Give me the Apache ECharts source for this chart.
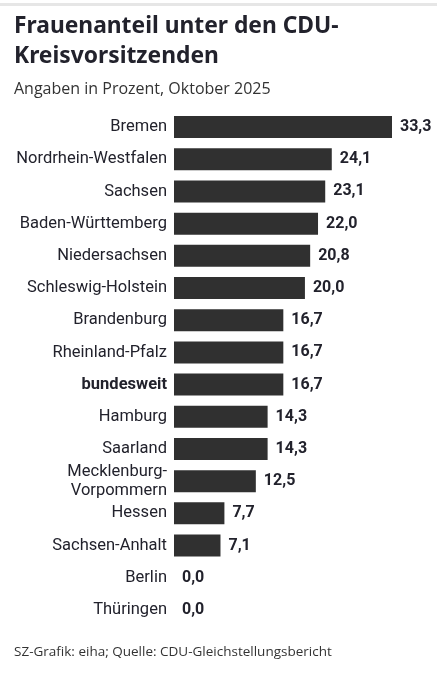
<!DOCTYPE html>
<html lang="de">
<head>
    <meta charset="UTF-8">
    <title>Frauenanteil unter den CDU-Kreisvorsitzenden</title>
    <script src="https://cdn.jsdelivr.net/npm/echarts@6/dist/echarts.min.js"></script>
    <style>
        html, body { margin: 0; padding: 0; background: #fff; }
        #main { width: 437px; height: 680px; }
    </style>
</head>
<body>
<div id="main"></div>
<script>
    // Daten
    const laender = ['Bremen', 'Nordrhein-Westfalen', 'Sachsen', 'Baden-Württemberg', 'Niedersachsen',
        'Schleswig-Holstein', 'Brandenburg', 'Rheinland-Pfalz', 'bundesweit', 'Hamburg', 'Saarland',
        'Mecklenburg-\nVorpommern', 'Hessen', 'Sachsen-Anhalt', 'Berlin', 'Thüringen'];
    const anteil = [33.3, 24.1, 23.1, 22.0, 20.8, 20.0, 16.7, 16.7, 16.7, 14.3, 14.3, 12.5, 7.7, 7.1, 0.0, 0.0];

    const textColor = '#22222c';
    const labelFont = 'Roboto, sans-serif';

    let myChart = echarts.init(document.getElementById('main'));
    let option = {
        backgroundColor: '#fff',
        animation: false,
        title: [
            {
                text: 'Frauenanteil unter den CDU-\nKreisvorsitzenden',
                left: 9, top: 7,
                textStyle: { fontFamily: '"Noto Sans"', fontWeight: 'bold', fontSize: 22.8, lineHeight: 30, color: textColor }
            },
            {
                text: 'Angaben in Prozent, Oktober 2025',
                left: 9, top: 76,
                textStyle: { fontFamily: '"Open Sans"', fontWeight: 'normal', fontSize: 16, color: '#333' }
            },
            {
                text: 'SZ-Grafik: eiha; Quelle: CDU-Gleichstellungsbericht',
                left: 9, top: 640,
                textStyle: { fontFamily: '"Open Sans"', fontWeight: 'normal', fontSize: 13.5, color: '#333' }
            }
        ],
        graphic: [
            { type: 'rect', shape: { x: 0, y: 3, width: 437, height: 3 }, style: { fill: '#e6e6e6' } }
        ],
        grid: { left: 174, right: 45, top: 111, bottom: 54 },
        xAxis: { type: 'value', min: 0, max: 33.3, show: false },
        yAxis: {
            type: 'category',
            inverse: true,
            data: laender,
            axisLine: { show: false },
            axisTick: { show: false },
            axisLabel: {
                margin: 7,
                color: textColor,
                fontFamily: labelFont,
                fontSize: 16.5,
                lineHeight: 19,
                formatter: function (v) {
                    return v === 'bundesweit' ? '{b|' + v + '}' : v;
                },
                rich: {
                    b: { fontWeight: 'bold', fontFamily: labelFont, fontSize: 16.5, color: textColor }
                }
            }
        },
        series: [
            {
                type: 'bar',
                data: anteil,
                barWidth: 22,
                itemStyle: { color: '#303030' },
                label: {
                    show: true,
                    position: 'right',
                    distance: 8,
                    fontFamily: labelFont,
                    fontWeight: 'bold',
                    fontSize: 16,
                    color: textColor,
                    formatter: function (p) { return p.value.toFixed(1).replace('.', ','); }
                }
            }
        ]
    };
    myChart.setOption(option);
</script>
</body>
</html>
